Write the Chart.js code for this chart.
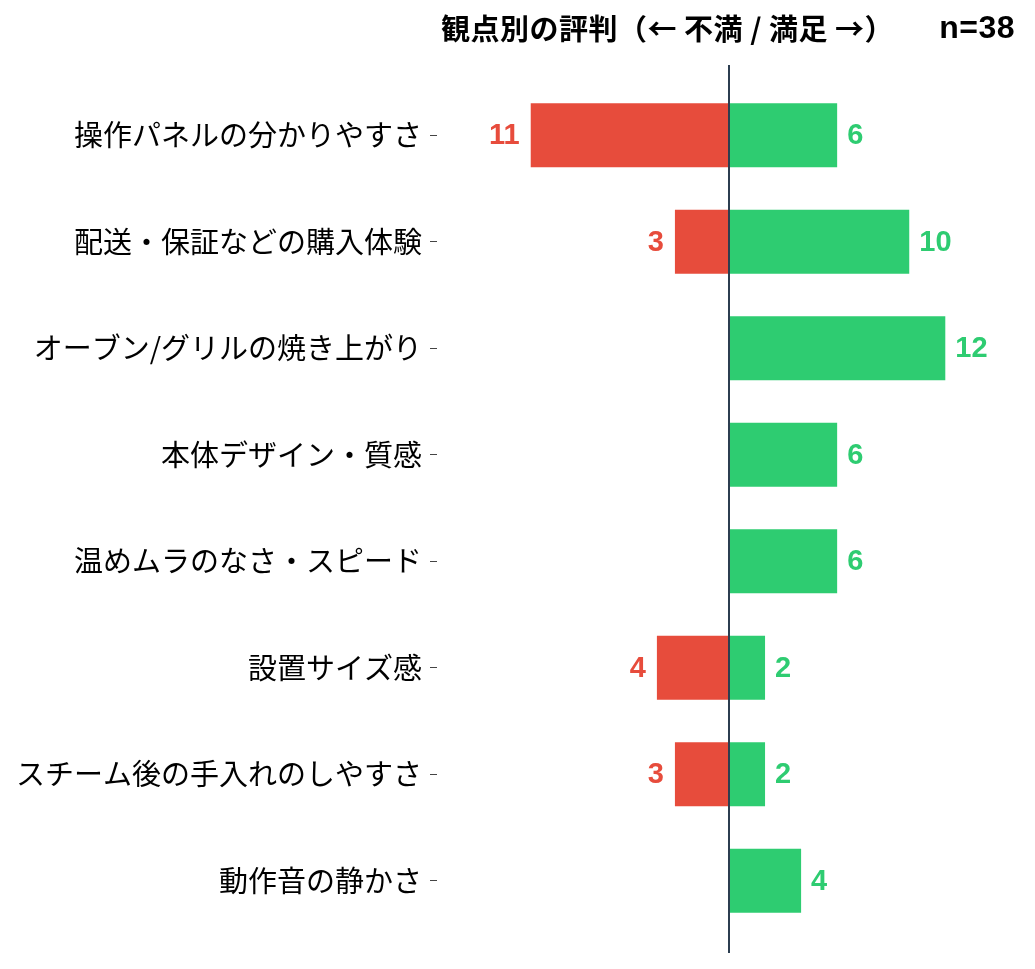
<!DOCTYPE html>
<html lang="ja">
<head>
<meta charset="utf-8">
<title>観点別の評判</title>
<script src="https://cdn.jsdelivr.net/npm/chart.js@4.4.1/dist/chart.umd.min.js"></script>
<style>
  body { margin: 0; background: #fff; }
  #wrap { width: 1035px; height: 969px; position: relative; }
</style>
</head>
<body>
<div id="wrap"><canvas id="reviewChart"></canvas></div>
<script>
const categories = [
  '操作パネルの分かりやすさ',
  '配送・保証などの購入体験',
  'オーブン/グリルの焼き上がり',
  '本体デザイン・質感',
  '温めムラのなさ・スピード',
  '設置サイズ感',
  'スチーム後の手入れのしやすさ',
  '動作音の静かさ'
];
const dissatisfied = [11, 3, 0, 0, 0, 4, 3, 0];
const satisfied = [6, 10, 12, 6, 6, 2, 2, 4];
const titleText = '観点別の評判（← 不満 / 満足 →）';
const countText = 'n=38';

const FONT = "'Noto Sans CJK JP', 'Noto Sans', sans-serif";
const NUM_FONT = "'Liberation Sans', 'Noto Sans CJK JP', sans-serif";
const RED = '#e74c3c';
const GREEN = '#2ecc71';

// vertical line at zero + title
const zeroLine = {
  id: 'zeroLine',
  afterDatasetsDraw(chart) {
    const { ctx, chartArea, scales } = chart;
    const x = scales.x.getPixelForValue(0);
    ctx.save();
    ctx.strokeStyle = '#2c3e50';
    ctx.lineWidth = 2;
    ctx.beginPath();
    ctx.moveTo(x, chartArea.top - 17);
    ctx.lineTo(x, chartArea.bottom + 19);
    ctx.stroke();

    ctx.fillStyle = '#000';
    ctx.textBaseline = 'middle';
    ctx.font = 'bold 29px ' + FONT;
    ctx.textAlign = 'left';
    ctx.letterSpacing = '0.5px';
    ctx.fillText(titleText, 441, 29);
    ctx.letterSpacing = '0.5px';
    ctx.font = 'bold 32px ' + NUM_FONT;
    ctx.textAlign = 'right';
    ctx.fillText(countText, 1015, 29);
    ctx.restore();
  }
};

// value labels next to bar ends
const valueLabels = {
  id: 'valueLabels',
  afterDatasetsDraw(chart) {
    const { ctx } = chart;
    ctx.save();
    ctx.font = 'bold 29px ' + NUM_FONT;
    ctx.textBaseline = 'middle';
    chart.data.datasets.forEach((ds, i) => {
      const meta = chart.getDatasetMeta(i);
      meta.data.forEach((bar, j) => {
        const v = ds.data[j];
        if (!v) return;
        ctx.fillStyle = ds.backgroundColor;
        if (v < 0) {
          ctx.textAlign = 'right';
          ctx.fillText(String(-v), bar.x - 11, bar.y + 1);
        } else {
          ctx.textAlign = 'left';
          ctx.fillText(String(v), bar.x + 10, bar.y + 1);
        }
      });
    });
    ctx.restore();
  }
};

new Chart(document.getElementById('reviewChart'), {
  type: 'bar',
  data: {
    labels: categories,
    datasets: [
      { label: '不満', data: dissatisfied.map(v => -v), backgroundColor: RED },
      { label: '満足', data: satisfied, backgroundColor: GREEN }
    ]
  },
  options: {
    indexAxis: 'y',
    responsive: true,
    maintainAspectRatio: false,
    animation: false,
    barPercentage: 0.6,
    categoryPercentage: 1,
    layout: { padding: { top: 82, bottom: 35, right: 14, left: 0 } },
    plugins: {
      legend: { display: false },
      tooltip: { enabled: false }
    },
    scales: {
      x: {
        stacked: true,
        display: false,
        min: -16.2,
        max: 16.2
      },
      y: {
        stacked: true,
        afterFit(scale) { scale.width = 437; },
        border: { display: false },
        grid: {
          offset: false,
          drawOnChartArea: false,
          drawTicks: true,
          tickLength: 7,
          color: '#444',
          lineWidth: 1
        },
        ticks: {
          padding: 8,
          color: '#000',
          font: { family: FONT, size: 29 }
        }
      }
    }
  },
  plugins: [zeroLine, valueLabels]
});
</script>
</body>
</html>
